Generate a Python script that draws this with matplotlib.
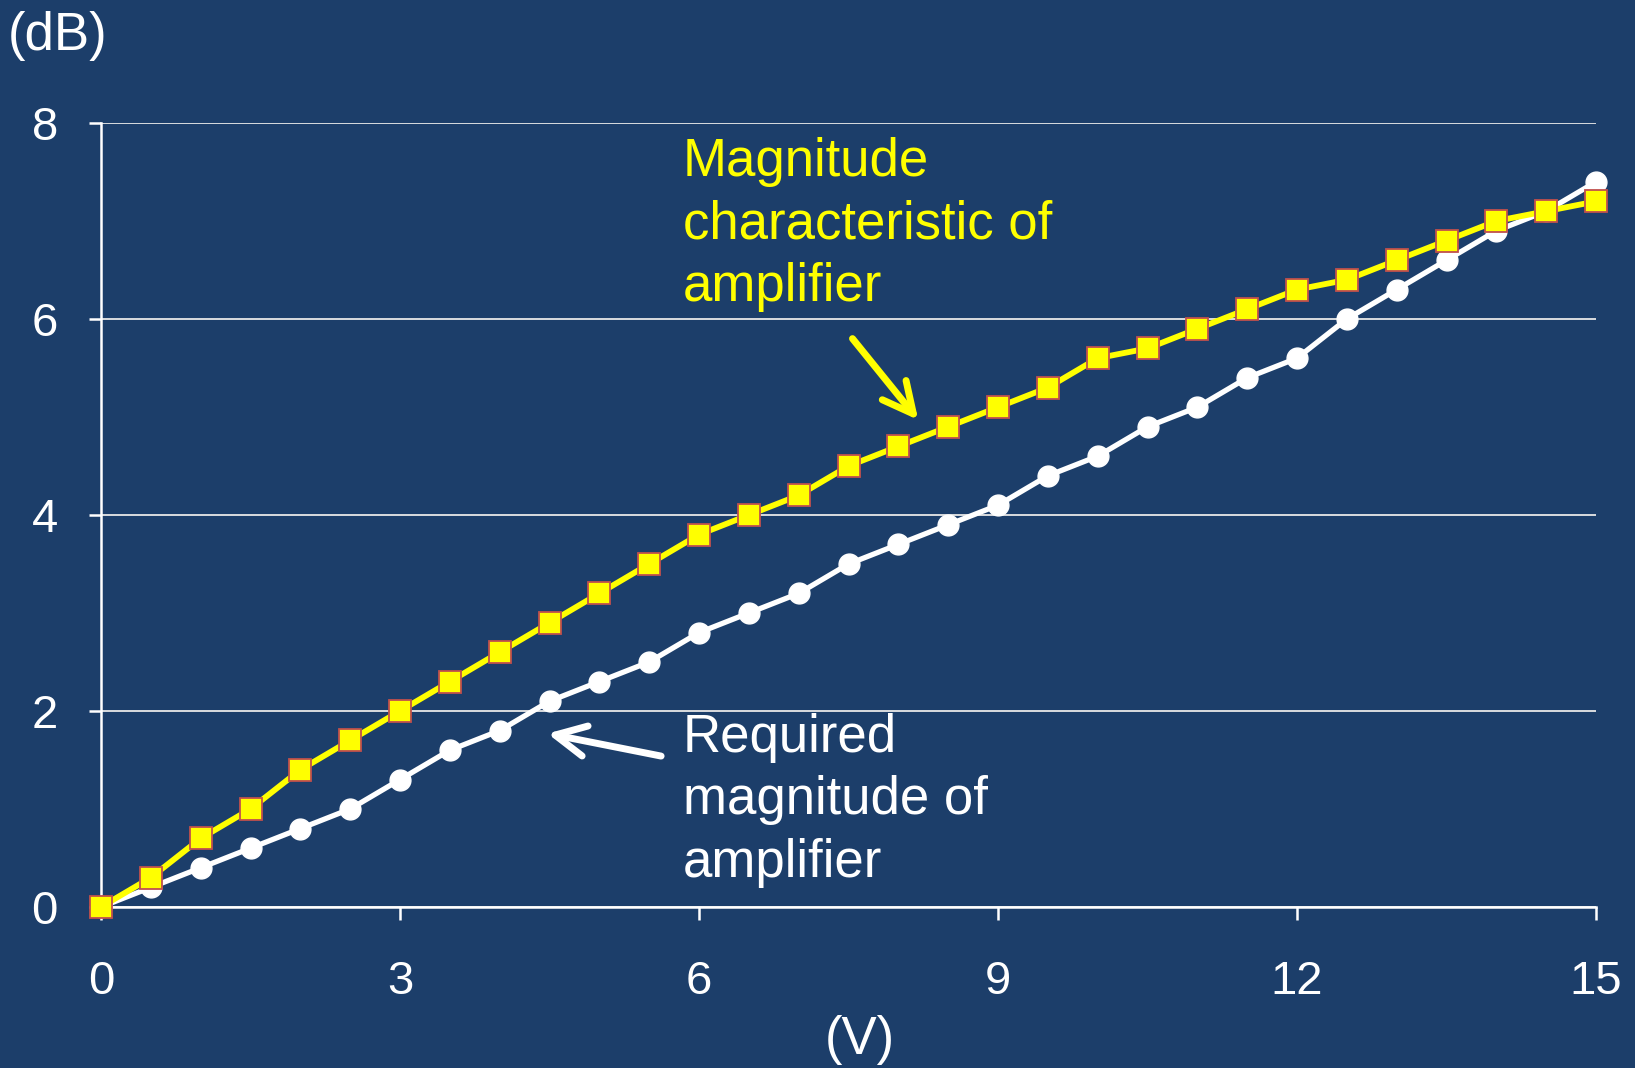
import numpy as np
import matplotlib.pyplot as plt

plt.rcParams['font.family'] = ['Liberation Sans', 'DejaVu Sans']

bg = '#1C3E6A'

volts = np.arange(0, 15.5, 0.5)
amp_db = [0, 0.3, 0.7, 1.0, 1.4, 1.7, 2.0, 2.3, 2.6, 2.9, 3.2, 3.5, 3.8, 4.0, 4.2,
          4.5, 4.7, 4.9, 5.1, 5.3, 5.6, 5.7, 5.9, 6.1, 6.3, 6.4, 6.6, 6.8, 7.0, 7.1, 7.2]
req_db = [0, 0.2, 0.4, 0.6, 0.8, 1.0, 1.3, 1.6, 1.8, 2.1, 2.3, 2.5, 2.8, 3.0, 3.2,
          3.5, 3.7, 3.9, 4.1, 4.4, 4.6, 4.9, 5.1, 5.4, 5.6, 6.0, 6.3, 6.6, 6.9, 7.1, 7.4]
xticks = [0, 3, 6, 9, 12, 15]
yticks = [0, 2, 4, 6, 8]

fig = plt.figure(figsize=(16.35, 10.68), dpi=100, facecolor=bg)
ax = fig.add_axes([101 / 1635, 1 - 907 / 1068, 1495 / 1635, 784 / 1068])
ax.set_facecolor(bg)

ax.plot(volts, req_db, color='white', lw=3.8, marker='o', ms=15,
        mfc='white', mec='white', zorder=3, clip_on=False)
ax.plot(volts, amp_db, color='#FFFF00', lw=4.2, marker='s', ms=15.5,
        mfc='#FFFF00', mec='#C0504D', mew=1.3, zorder=4, clip_on=False)

ax.set_xlim(0, 15)
ax.set_ylim(0, 8)
ax.set_xticks(xticks)
ax.set_yticks(yticks)
ax.grid(axis='y', color='#E8E8E8', lw=1.3)
ax.set_axisbelow(True)
for s in ['top', 'right']:
    ax.spines[s].set_visible(False)
for s in ['left', 'bottom']:
    ax.spines[s].set_color('white')
    ax.spines[s].set_linewidth(1.8)
ax.tick_params(colors='white', labelsize=34, length=9, width=1.8,
               direction='out')
ax.tick_params(axis='x', pad=29)
ax.tick_params(axis='y', pad=22)

# annotations
fig.text(683 / 1635, 1 - 137 / 1068, 'Magnitude\ncharacteristic of\namplifier',
         color='#FFFF00', fontsize=38, ha='left', va='top', linespacing=1.32)
fig.text(683 / 1635, 1 - 713 / 1068, 'Required\nmagnitude of\namplifier',
         color='white', fontsize=38, ha='left', va='top', linespacing=1.32)
head = '->,head_length=2.2,head_width=1.1'
ax.annotate('', xy=(8.2, 4.97), xytext=(7.54, 5.8),
            arrowprops=dict(arrowstyle=head, color='#FFFF00', lw=5,
                            shrinkA=0, shrinkB=0))
ax.annotate('', xy=(4.48, 1.77), xytext=(5.62, 1.54),
            arrowprops=dict(arrowstyle=head, color='white', lw=5,
                            shrinkA=0, shrinkB=0))

fig.text(8 / 1635, 1 - 36 / 1068, '(dB)', color='white', fontsize=38,
         ha='left', va='center')
fig.text(860 / 1635, 1 - 1040 / 1068, '(V)', color='white', fontsize=38,
         ha='center', va='center')

fig.savefig('out.png', dpi=100, facecolor=bg)
